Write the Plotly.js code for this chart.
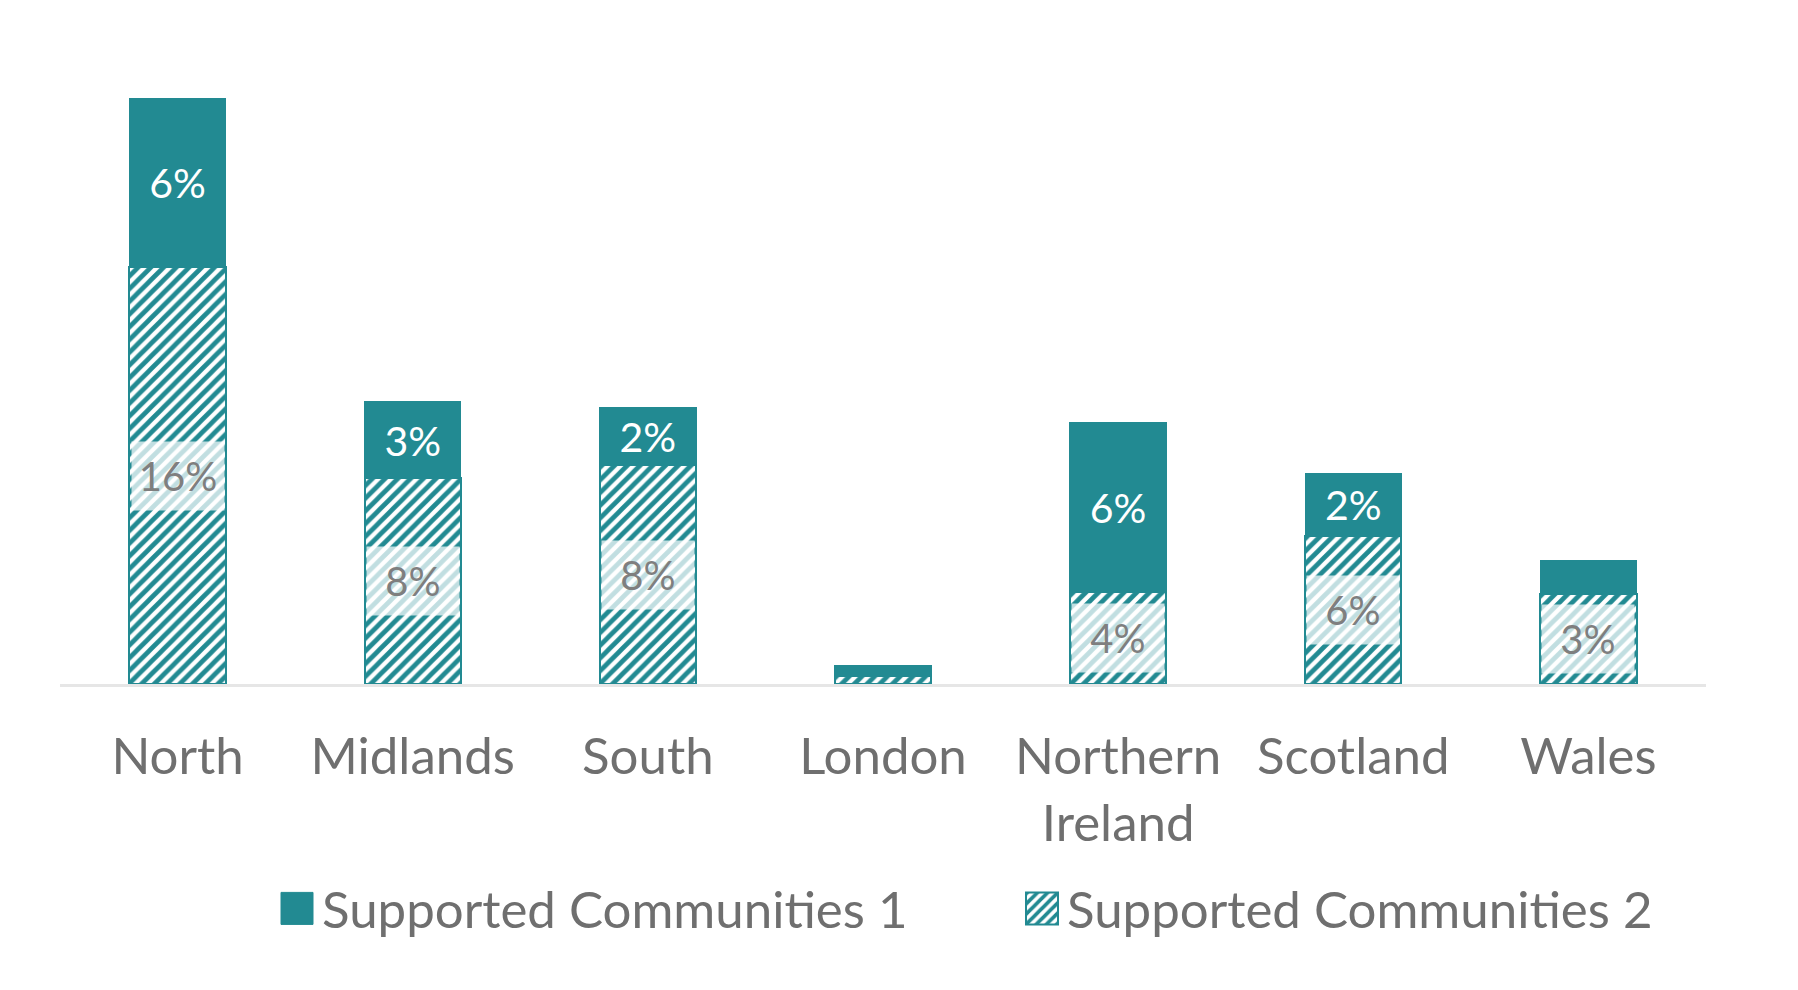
<!DOCTYPE html>
<html>
<head>
<meta charset="utf-8">
<script src="https://cdn.plot.ly/plotly-3.0.1.min.js"></script>
<style>
html,body{margin:0;padding:0;background:#fff;}
#chart{width:1798px;height:990px;}
</style>
</head>
<body>
<div id="chart"></div>
<script>
// Data (percent)
var regions = ['North', 'Midlands', 'South', 'London', 'Northern<br>Ireland', 'Scotland', 'Wales'];
var sc1Values = [6.4, 2.9, 2.2, 0.4, 6.4, 2.4, 1.3];
var sc2Values = [15.8, 7.8, 8.3, 0.3, 3.5, 5.6, 3.4];
var sc1Labels = ['6%', '3%', '2%', '', '6%', '2%', ''];
var sc2Labels = ['16%', '8%', '8%', '', '4%', '6%', '3%'];
var seriesNames = ['Supported Communities 1', 'Supported Communities 2'];

var TEAL = '#228A92';
var FONT = 'Lato, "Open Sans", sans-serif';

var traceSC2 = {
  type: 'bar',
  name: seriesNames[1],
  x: regions,
  y: sc2Values,
  marker: {
    color: '#ffffff',
    line: {color: TEAL, width: 2},
    pattern: {shape: '/', fgcolor: TEAL, bgcolor: '#ffffff', size: 9, solidity: 0.52, fillmode: 'replace'}
  },
  hoverinfo: 'skip'
};

var traceSC1 = {
  type: 'bar',
  name: seriesNames[0],
  x: regions,
  y: sc1Values,
  text: sc1Labels,
  textposition: 'inside',
  insidetextanchor: 'middle',
  textangle: 0,
  constraintext: 'none',
  textfont: {family: FONT, size: 41, color: '#ffffff'},
  marker: {color: TEAL, line: {color: TEAL, width: 1}},
  hoverinfo: 'skip'
};

// label boxes for series 2 (centered on each segment)
var annotations = [];
for (var i = 0; i < regions.length; i++) {
  if (!sc2Labels[i]) continue;
  annotations.push({
    x: regions[i], y: sc2Values[i] / 2, xref: 'x', yref: 'y',
    text: sc2Labels[i], showarrow: false,
    font: {family: FONT, size: 40, color: '#7f7f7f'},
    bgcolor: 'rgba(255,255,255,0.72)',
    width: 92, height: 68, borderpad: 0,
    xanchor: 'center', yanchor: 'middle'
  });
}

var layout = {
  width: 1798, height: 990,
  margin: {l: 60, r: 92, t: 40, b: 306},
  paper_bgcolor: '#ffffff', plot_bgcolor: '#ffffff',
  barmode: 'stack',
  bargap: 0.59,
  showlegend: true,
  legend: {
    orientation: 'h', x: 0.1288, xanchor: 'left', y: -0.349, yanchor: 'middle',
    traceorder: 'reversed',
    font: {family: FONT, size: 51, color: '#6f6f6f'},
    itemwidth: 40,
    entrywidth: 690,
    itemclick: false, itemdoubleclick: false
  },
  xaxis: {
    type: 'category',
    showline: true, linecolor: '#e6e6e6', linewidth: 3,
    ticks: '', showgrid: false, zeroline: false,
    tickfont: {family: FONT, size: 51, color: '#6f6f6f'},
    ticklabelstandoff: 26,
    fixedrange: true
  },
  yaxis: {
    range: [0, 24.42],
    visible: false, showgrid: false, zeroline: false,
    fixedrange: true
  },
  annotations: annotations,
  font: {family: FONT}
};

Plotly.newPlot('chart', [traceSC2, traceSC1], layout, {displayModeBar: false, staticPlot: true}).then(function (gd) {
  // enlarge legend swatches to match the reference
  document.querySelectorAll('.legend .legendpoints path').forEach(function (p) {
    p.setAttribute('d', 'M16,16H-16V-16H16Z');
  });
});
</script>
</body>
</html>
